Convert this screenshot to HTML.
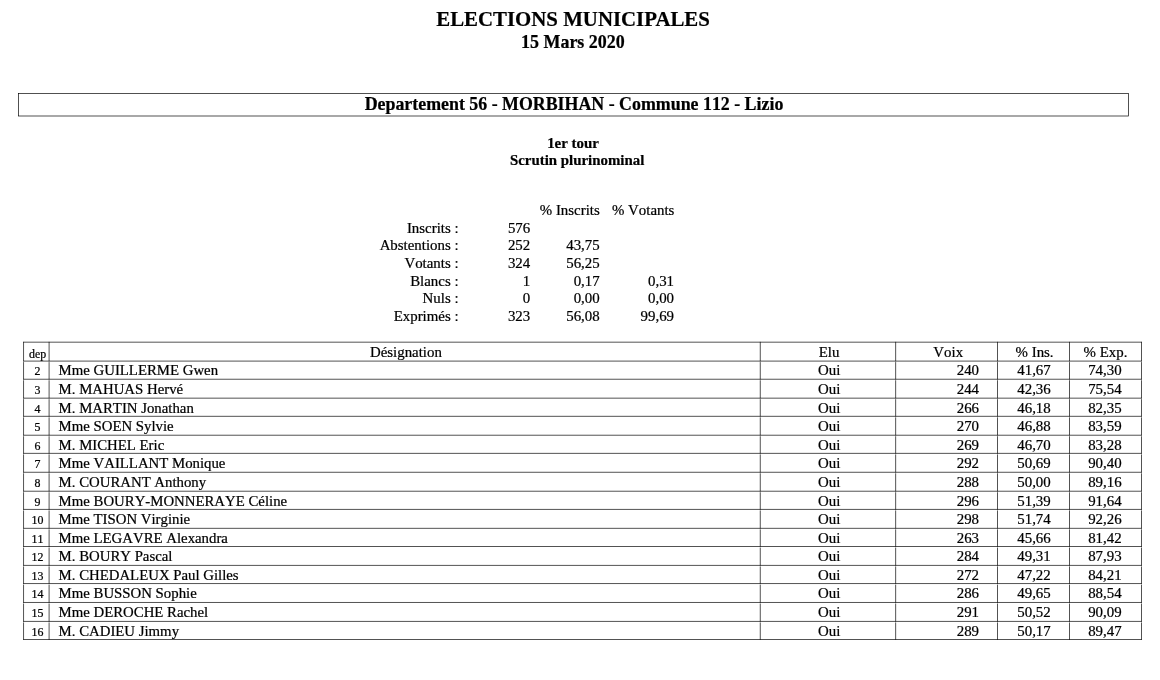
<!DOCTYPE html>
<html lang="fr">
<head>
<meta charset="utf-8">
<title>Elections municipales - Lizio</title>
<style>
html,body{margin:0;padding:0;background:#fff;}
body{width:1160px;height:680px;overflow:hidden;}
svg{display:block;}
text{font-family:"Liberation Serif",serif;fill:#000;white-space:pre;stroke:#000;stroke-width:0.22px;font-kerning:none;font-variant-ligatures:none;}
.m{text-anchor:middle} .e{text-anchor:end} .s{text-anchor:start}
.b{font-weight:bold} .k{font-kerning:normal}
line,rect{stroke:#000;stroke-width:0.68;}
</style>
</head>
<body>
<svg width="1160" height="680" viewBox="0 0 1160 680">
<text x="573.10" y="26.00" font-size="20.85" class="m b k">ELECTIONS MUNICIPALES</text>
<text x="572.90" y="48.10" font-size="17.95" class="m b">15 Mars 2020</text>
<text x="574.00" y="110.40" font-size="17.86" class="m b">Departement 56 - MORBIHAN - Commune 112 - Lizio</text>
<text x="573.00" y="148.00" font-size="14.88" class="m b">1er tour</text>
<text x="577.15" y="165.00" font-size="14.88" class="m b">Scrutin plurinominal</text>
<rect x="18.5" y="93.5" width="1110.0" height="22.5" fill="none"/>
<text x="599.70" y="215.00" font-size="14.88" class="e">% Inscrits</text>
<text x="674.40" y="215.00" font-size="14.88" class="e">% Votants</text>
<text x="458.55" y="233.00" font-size="14.88" class="e">Inscrits :</text>
<text x="530.20" y="233.00" font-size="14.88" class="e">576</text>
<text x="458.55" y="250.00" font-size="14.88" class="e">Abstentions :</text>
<text x="530.20" y="250.00" font-size="14.88" class="e">252</text>
<text x="599.70" y="250.00" font-size="14.88" class="e">43,75</text>
<text x="458.55" y="268.00" font-size="14.88" class="e">Votants :</text>
<text x="530.20" y="268.00" font-size="14.88" class="e">324</text>
<text x="599.70" y="268.00" font-size="14.88" class="e">56,25</text>
<text x="458.55" y="286.00" font-size="14.88" class="e">Blancs :</text>
<text x="530.20" y="286.00" font-size="14.88" class="e">1</text>
<text x="599.70" y="286.00" font-size="14.88" class="e">0,17</text>
<text x="674.00" y="286.00" font-size="14.88" class="e">0,31</text>
<text x="458.55" y="303.00" font-size="14.88" class="e">Nuls :</text>
<text x="530.20" y="303.00" font-size="14.88" class="e">0</text>
<text x="599.70" y="303.00" font-size="14.88" class="e">0,00</text>
<text x="674.00" y="303.00" font-size="14.88" class="e">0,00</text>
<text x="458.55" y="321.00" font-size="14.88" class="e">Exprimés :</text>
<text x="530.20" y="321.00" font-size="14.88" class="e">323</text>
<text x="599.70" y="321.00" font-size="14.88" class="e">56,08</text>
<text x="674.00" y="321.00" font-size="14.88" class="e">99,69</text>
<line x1="23.21" y1="342.18" x2="1141.84" y2="342.18"/>
<line x1="23.21" y1="361.10" x2="1141.84" y2="361.10"/>
<line x1="23.21" y1="379.24" x2="1141.84" y2="379.24"/>
<line x1="23.21" y1="398.17" x2="1141.84" y2="398.17"/>
<line x1="23.21" y1="416.32" x2="1141.84" y2="416.32"/>
<line x1="23.21" y1="435.22" x2="1141.84" y2="435.22"/>
<line x1="23.21" y1="453.37" x2="1141.84" y2="453.37"/>
<line x1="23.21" y1="472.28" x2="1141.84" y2="472.28"/>
<line x1="23.21" y1="491.23" x2="1141.84" y2="491.23"/>
<line x1="23.21" y1="509.42" x2="1141.84" y2="509.42"/>
<line x1="23.21" y1="528.33" x2="1141.84" y2="528.33"/>
<line x1="23.21" y1="546.50" x2="1141.84" y2="546.50"/>
<line x1="23.21" y1="565.40" x2="1141.84" y2="565.40"/>
<line x1="23.21" y1="583.55" x2="1141.84" y2="583.55"/>
<line x1="23.21" y1="602.48" x2="1141.84" y2="602.48"/>
<line x1="23.21" y1="621.42" x2="1141.84" y2="621.42"/>
<line x1="23.21" y1="639.50" x2="1141.84" y2="639.50"/>
<line x1="23.55" y1="341.84" x2="23.55" y2="361.44"/>
<line x1="49.10" y1="341.84" x2="49.10" y2="361.44"/>
<line x1="760.27" y1="341.84" x2="760.27" y2="361.44"/>
<line x1="895.65" y1="341.84" x2="895.65" y2="361.44"/>
<line x1="997.50" y1="341.84" x2="997.50" y2="361.44"/>
<line x1="1069.50" y1="341.84" x2="1069.50" y2="361.44"/>
<line x1="1141.50" y1="341.84" x2="1141.50" y2="361.44"/>
<line x1="23.55" y1="362.10" x2="23.55" y2="379.58"/>
<line x1="49.10" y1="362.10" x2="49.10" y2="379.58"/>
<line x1="760.27" y1="362.10" x2="760.27" y2="379.58"/>
<line x1="895.65" y1="362.10" x2="895.65" y2="379.58"/>
<line x1="997.50" y1="362.10" x2="997.50" y2="379.58"/>
<line x1="1069.50" y1="362.10" x2="1069.50" y2="379.58"/>
<line x1="1141.50" y1="362.10" x2="1141.50" y2="379.58"/>
<line x1="23.55" y1="380.24" x2="23.55" y2="398.51"/>
<line x1="49.10" y1="380.24" x2="49.10" y2="398.51"/>
<line x1="760.27" y1="380.24" x2="760.27" y2="398.51"/>
<line x1="895.65" y1="380.24" x2="895.65" y2="398.51"/>
<line x1="997.50" y1="380.24" x2="997.50" y2="398.51"/>
<line x1="1069.50" y1="380.24" x2="1069.50" y2="398.51"/>
<line x1="1141.50" y1="380.24" x2="1141.50" y2="398.51"/>
<line x1="23.55" y1="399.17" x2="23.55" y2="416.66"/>
<line x1="49.10" y1="399.17" x2="49.10" y2="416.66"/>
<line x1="760.27" y1="399.17" x2="760.27" y2="416.66"/>
<line x1="895.65" y1="399.17" x2="895.65" y2="416.66"/>
<line x1="997.50" y1="399.17" x2="997.50" y2="416.66"/>
<line x1="1069.50" y1="399.17" x2="1069.50" y2="416.66"/>
<line x1="1141.50" y1="399.17" x2="1141.50" y2="416.66"/>
<line x1="23.55" y1="417.32" x2="23.55" y2="435.56"/>
<line x1="49.10" y1="417.32" x2="49.10" y2="435.56"/>
<line x1="760.27" y1="417.32" x2="760.27" y2="435.56"/>
<line x1="895.65" y1="417.32" x2="895.65" y2="435.56"/>
<line x1="997.50" y1="417.32" x2="997.50" y2="435.56"/>
<line x1="1069.50" y1="417.32" x2="1069.50" y2="435.56"/>
<line x1="1141.50" y1="417.32" x2="1141.50" y2="435.56"/>
<line x1="23.55" y1="436.22" x2="23.55" y2="453.71"/>
<line x1="49.10" y1="436.22" x2="49.10" y2="453.71"/>
<line x1="760.27" y1="436.22" x2="760.27" y2="453.71"/>
<line x1="895.65" y1="436.22" x2="895.65" y2="453.71"/>
<line x1="997.50" y1="436.22" x2="997.50" y2="453.71"/>
<line x1="1069.50" y1="436.22" x2="1069.50" y2="453.71"/>
<line x1="1141.50" y1="436.22" x2="1141.50" y2="453.71"/>
<line x1="23.55" y1="454.37" x2="23.55" y2="472.62"/>
<line x1="49.10" y1="454.37" x2="49.10" y2="472.62"/>
<line x1="760.27" y1="454.37" x2="760.27" y2="472.62"/>
<line x1="895.65" y1="454.37" x2="895.65" y2="472.62"/>
<line x1="997.50" y1="454.37" x2="997.50" y2="472.62"/>
<line x1="1069.50" y1="454.37" x2="1069.50" y2="472.62"/>
<line x1="1141.50" y1="454.37" x2="1141.50" y2="472.62"/>
<line x1="23.55" y1="473.28" x2="23.55" y2="491.57"/>
<line x1="49.10" y1="473.28" x2="49.10" y2="491.57"/>
<line x1="760.27" y1="473.28" x2="760.27" y2="491.57"/>
<line x1="895.65" y1="473.28" x2="895.65" y2="491.57"/>
<line x1="997.50" y1="473.28" x2="997.50" y2="491.57"/>
<line x1="1069.50" y1="473.28" x2="1069.50" y2="491.57"/>
<line x1="1141.50" y1="473.28" x2="1141.50" y2="491.57"/>
<line x1="23.55" y1="492.23" x2="23.55" y2="509.76"/>
<line x1="49.10" y1="492.23" x2="49.10" y2="509.76"/>
<line x1="760.27" y1="492.23" x2="760.27" y2="509.76"/>
<line x1="895.65" y1="492.23" x2="895.65" y2="509.76"/>
<line x1="997.50" y1="492.23" x2="997.50" y2="509.76"/>
<line x1="1069.50" y1="492.23" x2="1069.50" y2="509.76"/>
<line x1="1141.50" y1="492.23" x2="1141.50" y2="509.76"/>
<line x1="23.55" y1="510.42" x2="23.55" y2="528.67"/>
<line x1="49.10" y1="510.42" x2="49.10" y2="528.67"/>
<line x1="760.27" y1="510.42" x2="760.27" y2="528.67"/>
<line x1="895.65" y1="510.42" x2="895.65" y2="528.67"/>
<line x1="997.50" y1="510.42" x2="997.50" y2="528.67"/>
<line x1="1069.50" y1="510.42" x2="1069.50" y2="528.67"/>
<line x1="1141.50" y1="510.42" x2="1141.50" y2="528.67"/>
<line x1="23.55" y1="529.33" x2="23.55" y2="546.84"/>
<line x1="49.10" y1="529.33" x2="49.10" y2="546.84"/>
<line x1="760.27" y1="529.33" x2="760.27" y2="546.84"/>
<line x1="895.65" y1="529.33" x2="895.65" y2="546.84"/>
<line x1="997.50" y1="529.33" x2="997.50" y2="546.84"/>
<line x1="1069.50" y1="529.33" x2="1069.50" y2="546.84"/>
<line x1="1141.50" y1="529.33" x2="1141.50" y2="546.84"/>
<line x1="23.55" y1="547.50" x2="23.55" y2="565.74"/>
<line x1="49.10" y1="547.50" x2="49.10" y2="565.74"/>
<line x1="760.27" y1="547.50" x2="760.27" y2="565.74"/>
<line x1="895.65" y1="547.50" x2="895.65" y2="565.74"/>
<line x1="997.50" y1="547.50" x2="997.50" y2="565.74"/>
<line x1="1069.50" y1="547.50" x2="1069.50" y2="565.74"/>
<line x1="1141.50" y1="547.50" x2="1141.50" y2="565.74"/>
<line x1="23.55" y1="566.40" x2="23.55" y2="583.89"/>
<line x1="49.10" y1="566.40" x2="49.10" y2="583.89"/>
<line x1="760.27" y1="566.40" x2="760.27" y2="583.89"/>
<line x1="895.65" y1="566.40" x2="895.65" y2="583.89"/>
<line x1="997.50" y1="566.40" x2="997.50" y2="583.89"/>
<line x1="1069.50" y1="566.40" x2="1069.50" y2="583.89"/>
<line x1="1141.50" y1="566.40" x2="1141.50" y2="583.89"/>
<line x1="23.55" y1="584.55" x2="23.55" y2="602.82"/>
<line x1="49.10" y1="584.55" x2="49.10" y2="602.82"/>
<line x1="760.27" y1="584.55" x2="760.27" y2="602.82"/>
<line x1="895.65" y1="584.55" x2="895.65" y2="602.82"/>
<line x1="997.50" y1="584.55" x2="997.50" y2="602.82"/>
<line x1="1069.50" y1="584.55" x2="1069.50" y2="602.82"/>
<line x1="1141.50" y1="584.55" x2="1141.50" y2="602.82"/>
<line x1="23.55" y1="603.48" x2="23.55" y2="621.76"/>
<line x1="49.10" y1="603.48" x2="49.10" y2="621.76"/>
<line x1="760.27" y1="603.48" x2="760.27" y2="621.76"/>
<line x1="895.65" y1="603.48" x2="895.65" y2="621.76"/>
<line x1="997.50" y1="603.48" x2="997.50" y2="621.76"/>
<line x1="1069.50" y1="603.48" x2="1069.50" y2="621.76"/>
<line x1="1141.50" y1="603.48" x2="1141.50" y2="621.76"/>
<line x1="23.55" y1="622.42" x2="23.55" y2="639.84"/>
<line x1="49.10" y1="622.42" x2="49.10" y2="639.84"/>
<line x1="760.27" y1="622.42" x2="760.27" y2="639.84"/>
<line x1="895.65" y1="622.42" x2="895.65" y2="639.84"/>
<line x1="997.50" y1="622.42" x2="997.50" y2="639.84"/>
<line x1="1069.50" y1="622.42" x2="1069.50" y2="639.84"/>
<line x1="1141.50" y1="622.42" x2="1141.50" y2="639.84"/>
<text x="37.60" y="357.70" font-size="11.9" class="m">dep</text>
<text x="405.90" y="357.00" font-size="14.88" class="m">Désignation</text>
<text x="829.00" y="357.00" font-size="14.88" class="m">Elu</text>
<text x="948.20" y="357.00" font-size="14.88" class="m">Voix</text>
<text x="1034.60" y="357.00" font-size="14.88" class="m">% Ins.</text>
<text x="1105.50" y="357.00" font-size="14.88" class="m">% Exp.</text>
<text x="37.50" y="375.00" font-size="11.9" class="m">2</text>
<text x="58.60" y="375.00" font-size="14.8" class="s">Mme GUILLERME Gwen</text>
<text x="829.20" y="375.00" font-size="14.88" class="m">Oui</text>
<text x="979.00" y="375.00" font-size="14.88" class="e">240</text>
<text x="1034.00" y="375.00" font-size="14.88" class="m">41,67</text>
<text x="1104.90" y="375.00" font-size="14.88" class="m">74,30</text>
<text x="37.50" y="394.00" font-size="11.9" class="m">3</text>
<text x="58.60" y="394.00" font-size="14.8" class="s">M. MAHUAS Hervé</text>
<text x="829.20" y="394.00" font-size="14.88" class="m">Oui</text>
<text x="979.00" y="394.00" font-size="14.88" class="e">244</text>
<text x="1034.00" y="394.00" font-size="14.88" class="m">42,36</text>
<text x="1104.90" y="394.00" font-size="14.88" class="m">75,54</text>
<text x="37.50" y="413.00" font-size="11.9" class="m">4</text>
<text x="58.60" y="413.00" font-size="14.8" class="s">M. MARTIN Jonathan</text>
<text x="829.20" y="413.00" font-size="14.88" class="m">Oui</text>
<text x="979.00" y="413.00" font-size="14.88" class="e">266</text>
<text x="1034.00" y="413.00" font-size="14.88" class="m">46,18</text>
<text x="1104.90" y="413.00" font-size="14.88" class="m">82,35</text>
<text x="37.50" y="431.00" font-size="11.9" class="m">5</text>
<text x="58.60" y="431.00" font-size="14.8" class="s">Mme SOEN Sylvie</text>
<text x="829.20" y="431.00" font-size="14.88" class="m">Oui</text>
<text x="979.00" y="431.00" font-size="14.88" class="e">270</text>
<text x="1034.00" y="431.00" font-size="14.88" class="m">46,88</text>
<text x="1104.90" y="431.00" font-size="14.88" class="m">83,59</text>
<text x="37.50" y="450.00" font-size="11.9" class="m">6</text>
<text x="58.60" y="450.00" font-size="14.8" class="s">M. MICHEL Eric</text>
<text x="829.20" y="450.00" font-size="14.88" class="m">Oui</text>
<text x="979.00" y="450.00" font-size="14.88" class="e">269</text>
<text x="1034.00" y="450.00" font-size="14.88" class="m">46,70</text>
<text x="1104.90" y="450.00" font-size="14.88" class="m">83,28</text>
<text x="37.50" y="468.00" font-size="11.9" class="m">7</text>
<text x="58.60" y="468.00" font-size="14.8" class="s">Mme VAILLANT Monique</text>
<text x="829.20" y="468.00" font-size="14.88" class="m">Oui</text>
<text x="979.00" y="468.00" font-size="14.88" class="e">292</text>
<text x="1034.00" y="468.00" font-size="14.88" class="m">50,69</text>
<text x="1104.90" y="468.00" font-size="14.88" class="m">90,40</text>
<text x="37.50" y="487.00" font-size="11.9" class="m">8</text>
<text x="58.60" y="487.00" font-size="14.8" class="s">M. COURANT Anthony</text>
<text x="829.20" y="487.00" font-size="14.88" class="m">Oui</text>
<text x="979.00" y="487.00" font-size="14.88" class="e">288</text>
<text x="1034.00" y="487.00" font-size="14.88" class="m">50,00</text>
<text x="1104.90" y="487.00" font-size="14.88" class="m">89,16</text>
<text x="37.50" y="506.00" font-size="11.9" class="m">9</text>
<text x="58.60" y="506.00" font-size="14.8" class="s">Mme BOURY-MONNERAYE Céline</text>
<text x="829.20" y="506.00" font-size="14.88" class="m">Oui</text>
<text x="979.00" y="506.00" font-size="14.88" class="e">296</text>
<text x="1034.00" y="506.00" font-size="14.88" class="m">51,39</text>
<text x="1104.90" y="506.00" font-size="14.88" class="m">91,64</text>
<text x="37.50" y="524.00" font-size="11.9" class="m">10</text>
<text x="58.60" y="524.00" font-size="14.8" class="s">Mme TISON Virginie</text>
<text x="829.20" y="524.00" font-size="14.88" class="m">Oui</text>
<text x="979.00" y="524.00" font-size="14.88" class="e">298</text>
<text x="1034.00" y="524.00" font-size="14.88" class="m">51,74</text>
<text x="1104.90" y="524.00" font-size="14.88" class="m">92,26</text>
<text x="37.50" y="543.00" font-size="11.9" class="m">11</text>
<text x="58.60" y="543.00" font-size="14.8" class="s">Mme LEGAVRE Alexandra</text>
<text x="829.20" y="543.00" font-size="14.88" class="m">Oui</text>
<text x="979.00" y="543.00" font-size="14.88" class="e">263</text>
<text x="1034.00" y="543.00" font-size="14.88" class="m">45,66</text>
<text x="1104.90" y="543.00" font-size="14.88" class="m">81,42</text>
<text x="37.50" y="561.00" font-size="11.9" class="m">12</text>
<text x="58.60" y="561.00" font-size="14.8" class="s">M. BOURY Pascal</text>
<text x="829.20" y="561.00" font-size="14.88" class="m">Oui</text>
<text x="979.00" y="561.00" font-size="14.88" class="e">284</text>
<text x="1034.00" y="561.00" font-size="14.88" class="m">49,31</text>
<text x="1104.90" y="561.00" font-size="14.88" class="m">87,93</text>
<text x="37.50" y="580.00" font-size="11.9" class="m">13</text>
<text x="58.60" y="580.00" font-size="14.8" class="s">M. CHEDALEUX Paul Gilles</text>
<text x="829.20" y="580.00" font-size="14.88" class="m">Oui</text>
<text x="979.00" y="580.00" font-size="14.88" class="e">272</text>
<text x="1034.00" y="580.00" font-size="14.88" class="m">47,22</text>
<text x="1104.90" y="580.00" font-size="14.88" class="m">84,21</text>
<text x="37.50" y="598.00" font-size="11.9" class="m">14</text>
<text x="58.60" y="598.00" font-size="14.8" class="s">Mme BUSSON Sophie</text>
<text x="829.20" y="598.00" font-size="14.88" class="m">Oui</text>
<text x="979.00" y="598.00" font-size="14.88" class="e">286</text>
<text x="1034.00" y="598.00" font-size="14.88" class="m">49,65</text>
<text x="1104.90" y="598.00" font-size="14.88" class="m">88,54</text>
<text x="37.50" y="617.00" font-size="11.9" class="m">15</text>
<text x="58.60" y="617.00" font-size="14.8" class="s">Mme DEROCHE Rachel</text>
<text x="829.20" y="617.00" font-size="14.88" class="m">Oui</text>
<text x="979.00" y="617.00" font-size="14.88" class="e">291</text>
<text x="1034.00" y="617.00" font-size="14.88" class="m">50,52</text>
<text x="1104.90" y="617.00" font-size="14.88" class="m">90,09</text>
<text x="37.50" y="636.00" font-size="11.9" class="m">16</text>
<text x="58.60" y="636.00" font-size="14.8" class="s">M. CADIEU Jimmy</text>
<text x="829.20" y="636.00" font-size="14.88" class="m">Oui</text>
<text x="979.00" y="636.00" font-size="14.88" class="e">289</text>
<text x="1034.00" y="636.00" font-size="14.88" class="m">50,17</text>
<text x="1104.90" y="636.00" font-size="14.88" class="m">89,47</text>
</svg>
</body>
</html>
